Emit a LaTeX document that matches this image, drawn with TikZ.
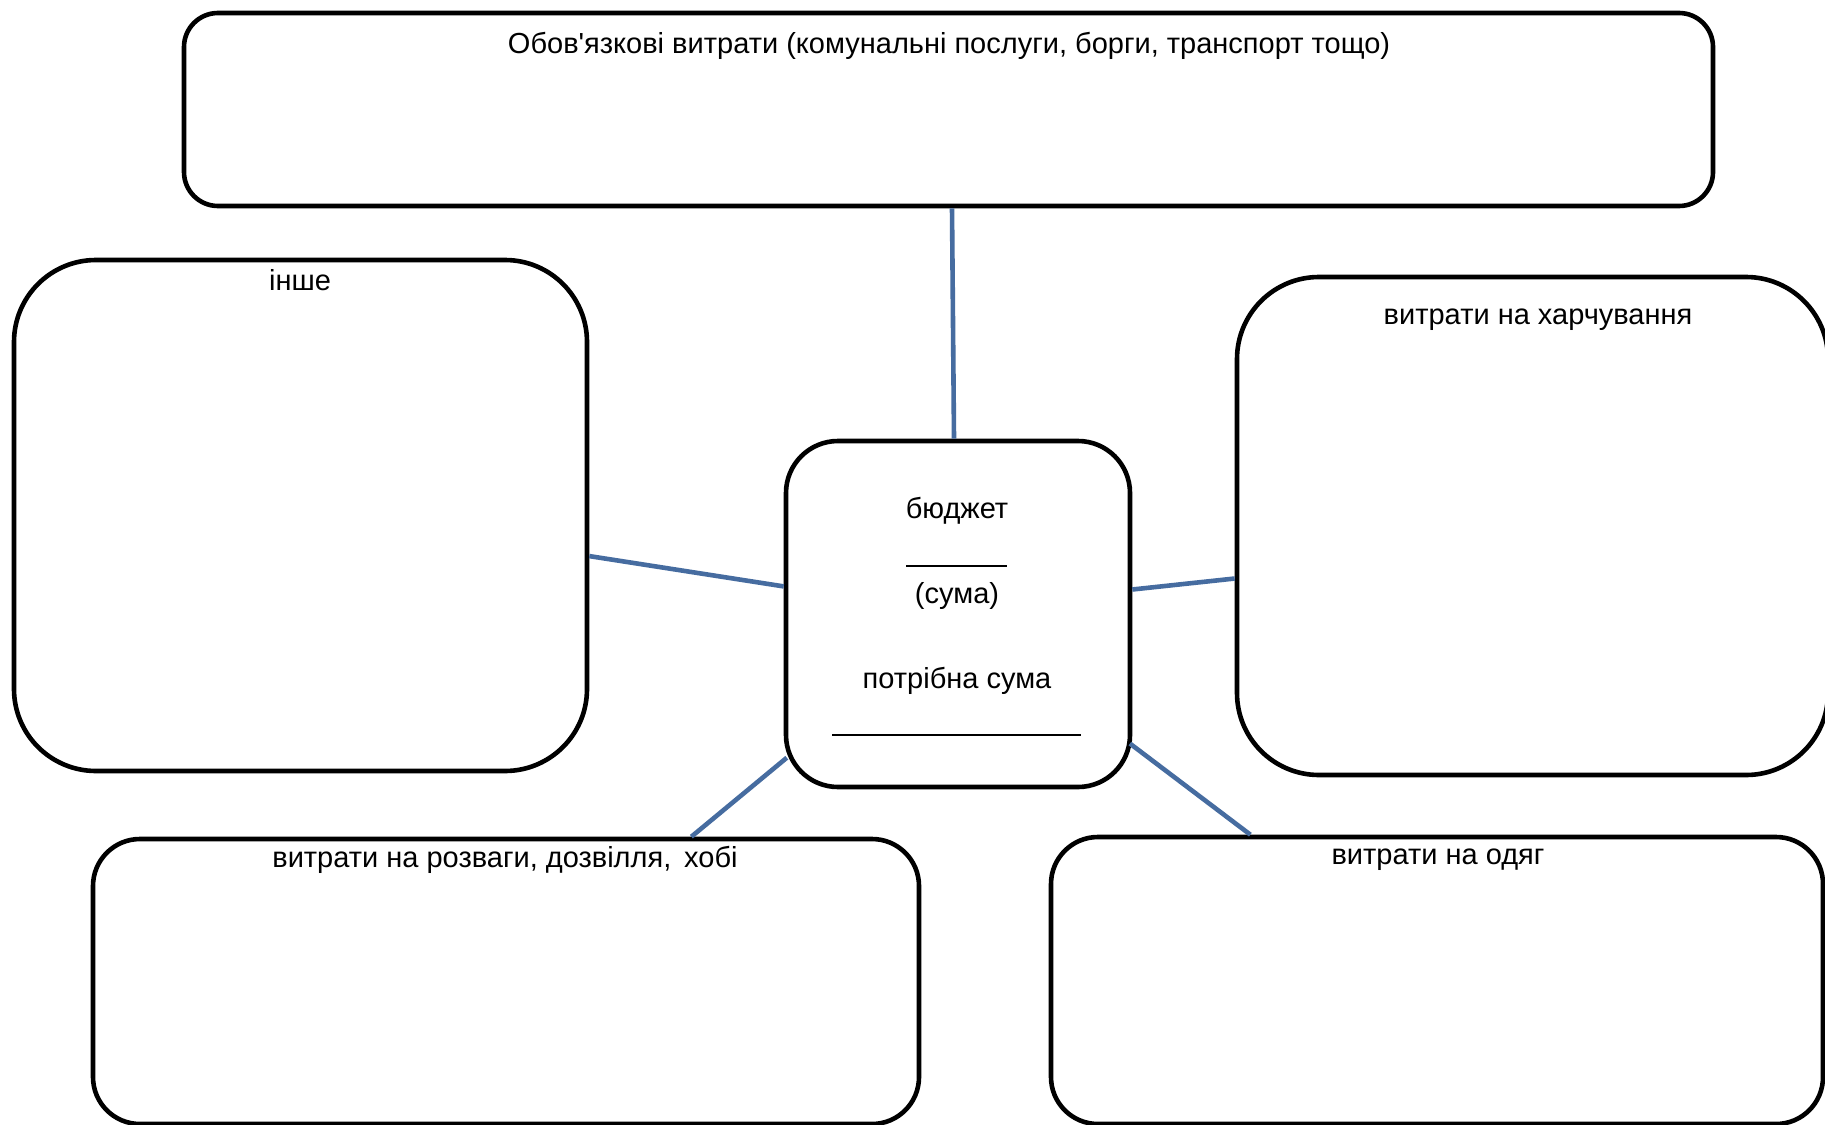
\documentclass[tikz,border=0pt]{standalone}
\usepackage{fontspec}
\setmainfont{Liberation Sans}[Ligatures=TeXOff]
\usetikzlibrary{calc}
\definecolor{linkblue}{RGB}{70,108,160}
\begin{document}
\begin{tikzpicture}[x=1pt,y=-1pt,
  box/.style={draw=black,line width=4.6pt,fill=white,rectangle,inner sep=0pt},
  link/.style={draw=linkblue,line width=4.6pt},
  lbl/.style={anchor=base,inner sep=0pt,font=\fontsize{29}{34}\selectfont},
  rule/.style={draw=black,line width=2pt}]
\useasboundingbox (0,0) rectangle (1825,1124);
\clip (0,0) rectangle (1825,1124);
\fill[white] (0,0) rectangle (1825,1124);

% boxes
\node[box,rounded corners=34pt,minimum width=1529pt,minimum height=193pt] (top) at (948.5,109.5) {};
\node[box,rounded corners=82pt,minimum width=573pt,minimum height=511pt] (other) at (300.5,515.5) {};
\node[box,rounded corners=82pt,minimum width=591pt,minimum height=498pt] (food) at (1532.5,526) {};
\node[box,rounded corners=52pt,minimum width=344pt,minimum height=346pt] (budget) at (958,614) {};
\node[box,rounded corners=47pt,minimum width=826pt,minimum height=285pt] (fun) at (506,981.5) {};
\node[box,rounded corners=47pt,minimum width=772pt,minimum height=287pt] (clothes) at (1437,980.5) {};

% connectors
\draw[link] ($(top.south)+(3.5,0)$) -- ($(budget.north)+(-4,0)$);
\draw[link] (other.-8.6) -- (budget.171.7);
\draw[link] (budget.8.3) -- (food.-170.9);
\draw[link,shorten <=-4pt] (budget.-140.3) -- (fun.38.5);
\draw[link,shorten <=-3pt] (budget.-37.5) -- (clothes.142.9);

% labels
\node[lbl] (toplbl) at (949,53) {Обов'язкові витрати (комунальні послуги, борги, транспорт тощо)};
\node[lbl] (otherlbl) at (300,290) {інше};
\node[lbl] (foodlbl) at (1538,324) {витрати на харчування};
\node[lbl] (funlbl) at (505,867) {витрати на розваги, дозвілля,\, хобі};
\node[lbl] (clotheslbl) at (1438,864) {витрати на одяг};

\node[lbl] (blbl) at (957,518) {бюджет};
\node[lbl] (slbl) at (957,603) {(сума)};
\node[lbl] (nlbl) at (957,688) {потрібна сума};

% blanks to fill in
\coordinate (r1a) at (906,566);
\coordinate (r1b) at (1007,566);
\coordinate (r2a) at (832,735);
\coordinate (r2b) at (1081,735);
\draw[rule] (r1a) -- (r1b);
\draw[rule] (r2a) -- (r2b);
\end{tikzpicture}
\end{document}
